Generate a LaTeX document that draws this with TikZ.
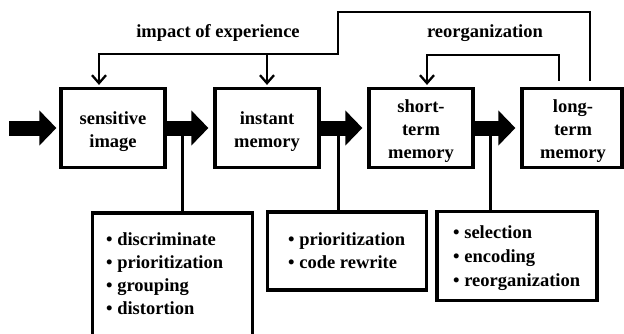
\documentclass[tikz,border=0pt]{standalone}
\usepackage{fontspec}
\setmainfont{Liberation Serif}
\usetikzlibrary{arrows.meta,calc}
\begin{document}
\begin{tikzpicture}[x=1pt,y=-1pt,
  every node/.style={font=\bfseries\fontsize{18.5}{23}\selectfont, inner sep=0pt},
  mem/.style={draw, line width=3.2pt, minimum width=104pt, minimum height=79pt},
  memtext/.style={align=center},
  info/.style={draw, line width=3.2pt, minimum width=160pt},
  items/.style={align=left},
  flow/.style={line width=15pt, -{Triangle[length=17pt,width=34pt]}},
  fb/.style={line width=2.3pt, line join=miter, -{Straight Barb[length=8pt,width=14pt,line width=2.3pt]}},
  tie/.style={line width=3pt}]
\useasboundingbox (0,0) rectangle (624,333);
\fill[white] (0,0) rectangle (624,333);
% memory stages
\node[mem] (sens) at (113,128) {};
\node[mem] (inst) at (267,128) {};
\node[mem] (short) at (421,128) {};
\node[mem, minimum width=100pt] (long) at (572,128) {};
\node[memtext] (senst) at (113,131.5) {sensitive\\image};
\node[memtext] (instt) at (267,131.5) {instant\\memory};
\node[memtext] (shortt) at (421,131) {short-\\term\\memory};
\node[memtext] (longt) at (573,131) {long-\\term\\memory};
% block arrows
\coordinate (in) at (9,128);
\draw[flow, shorten >=3pt] (in) -- (sens.west);
\draw[flow, shorten >=5pt] (sens.east) -- (inst.west);
\draw[flow, shorten >=5pt] (inst.east) -- (short.west);
\draw[flow, shorten >=5pt] (short.east) -- (long.west);
% info boxes
\node[info, minimum height=132pt] (b1) at (172.7,279) {};
\node[items, anchor=west] (b1t) at (106,274) {• discriminate\\• prioritization\\• grouping\\• distortion};
\node[info, minimum width=159pt, minimum height=78pt, items] (b2) at (346.7,251) {• prioritization\\• code rewrite};
\node[info, minimum height=89pt] (b3) at (517,256.3) {};
\node[items, anchor=west, font=\bfseries\fontsize{18.5}{24}\selectfont] (b3t) at (453,258.5) {• selection\\• encoding\\• reorganization};
% ties
\coordinate (t1) at (182,130);
\coordinate (t2) at (338,130);
\coordinate (t3) at (490,130);
\draw[tie] (t1) -- (t1 |- b1.north);
\draw[tie] (t2) -- (t2 |- b2.north);
\draw[tie] (t3) -- (t3 |- b3.north);
% feedback
\coordinate (r1) at (559,55);
\coordinate (r2) at (427,55);
\draw[fb, shorten <=6pt, shorten >=2pt] (long.north -| r1) -- (r1) -- (r2) -- (r2 |- short.north);
\coordinate (o1) at (590,12);
\coordinate (o2) at (338,12);
\coordinate (o3) at (338,54);
\coordinate (o4) at (99,54);
\draw[fb, shorten <=6pt, shorten >=2pt] (long.north -| o1) -- (o1) -- (o2) -- (o3) -- (o4) -- (o4 |- sens.north);
\draw[fb, shorten >=2pt] (inst.north |- o3) -- (inst.north);
% labels
\node (lab1) at (218,33) {impact of experience};
\node (lab2) at (485,33) {reorganization};
\end{tikzpicture}
\end{document}
